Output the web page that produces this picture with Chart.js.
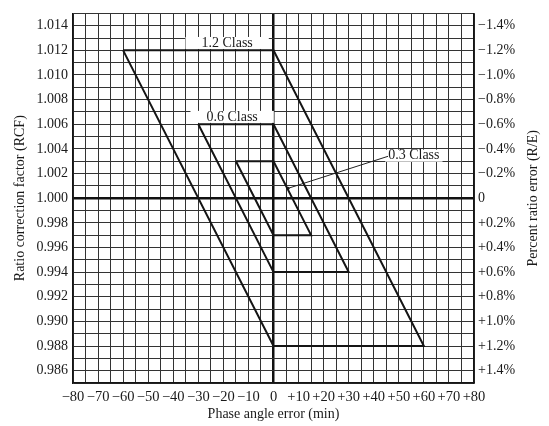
<!DOCTYPE html>
<html>
<head>
<meta charset="utf-8">
<script src="https://cdn.jsdelivr.net/npm/chart.js@4/dist/chart.umd.min.js"></script>
<style>
  html, body { margin: 0; padding: 0; background: #fff; }
  #wrap { width: 549px; height: 426px; }
</style>
</head>
<body>
<div id="wrap"><canvas id="chart" width="549" height="426"></canvas></div>
<script>
// accuracy class parallelograms (phase angle min, RCF)
const class12X = [-60, 0, 60, 0, -60];
const class12Y = [1.012, 1.012, 0.988, 0.988, 1.012];
const class06X = [-30, 0, 30, 0, -30];
const class06Y = [1.006, 1.006, 0.994, 0.994, 1.006];
const class03X = [-15, 0, 15, 0, -15];
const class03Y = [1.003, 1.003, 0.997, 0.997, 1.003];

// leader line for the 0.3 class label
const leaderX = [45.7, 5.8];
const leaderY = [1.0034, 1.0008];

const labelTexts = ['1.2 Class', '0.6 Class', '0.3 Class'];
const labelX = [-18.5, -16.5, 56];
const labelY = [1.0126, 1.0066, 1.00345];

const xMin = -80, xMax = 80, xStep = 5;
const yMin = 0.985, yMax = 1.015, yStep = 0.001;

const FONT = '"Liberation Serif", "DejaVu Serif", serif';

function toPoints(xs, ys) {
    return xs.map((x, i) => ({ x: x, y: ys[i] }));
}

function shape(xs, ys) {
    return {
        data: toPoints(xs, ys),
        showLine: true,
        borderColor: '#151515',
        borderWidth: 2,
        pointRadius: 0,
        fill: false,
        tension: 0
    };
}

function fmtX(v) {
    if (v % 10 !== 0) return '';
    if (v === 0) return '0';
    return v > 0 ? '+' + v : '\u2212' + Math.abs(v);
}

function fmtRcf(v) {
    const k = Math.round(v * 1000);
    if (k % 2 !== 0) return '';
    return (k / 1000).toFixed(3);
}

function fmtPct(v) {
    const k = Math.round(v * 1000) - 1000;
    if (k % 2 !== 0) return '';
    if (k === 0) return '0';
    const pct = (Math.abs(k) / 10).toFixed(1) + '%';
    return k > 0 ? '\u2212' + pct : '+' + pct;
}

const overlay = {
    id: 'overlay',
    beforeDatasetsDraw(chart) {
        const { ctx, scales } = chart;
        ctx.save();
        ctx.font = '14px ' + FONT;
        ctx.textAlign = 'center';
        ctx.textBaseline = 'middle';
        labelTexts.forEach((t, i) => {
            const px = scales.x.getPixelForValue(labelX[i]);
            const py = scales.y.getPixelForValue(labelY[i]);
            const w = ctx.measureText(t).width;
            const pad = i === 2 ? 3 : 16;
            ctx.fillStyle = '#fff';
            ctx.fillRect(px - w / 2 - pad, py - 6, w + pad * 2, 12);
            ctx.fillStyle = '#1a1a1a';
            ctx.fillText(t, px, py);
        });
        ctx.restore();
    },
    afterDraw(chart) {
        const { ctx, chartArea } = chart;
        ctx.save();
        ctx.font = '14px ' + FONT;
        ctx.fillStyle = '#1a1a1a';
        ctx.textAlign = 'center';
        ctx.textBaseline = 'middle';
        ctx.translate(533, (chartArea.top + chartArea.bottom) / 2);
        ctx.rotate(-Math.PI / 2);
        ctx.fillText('Percent ratio error (R/E)', 0, 0);
        ctx.restore();
    }
};

const GRID = '#333';

new Chart(document.getElementById('chart'), {
    type: 'scatter',
    data: {
        datasets: [
            shape(class12X, class12Y),
            shape(class06X, class06Y),
            shape(class03X, class03Y),
            {
                data: toPoints(leaderX, leaderY),
                showLine: true,
                borderColor: '#222',
                borderWidth: 1,
                pointRadius: [0, 1.5],
                pointBackgroundColor: '#222',
                pointBorderWidth: 0
            }
        ]
    },
    options: {
        responsive: false,
        animation: false,
        layout: { padding: { top: 5, left: 0, right: 0, bottom: 0 } },
        plugins: { legend: { display: false }, tooltip: { enabled: false } },
        scales: {
            x: {
                type: 'linear',
                min: xMin,
                max: xMax,
                border: { color: '#151515', width: 1.5 },
                grid: {
                    drawTicks: false,
                    color: (c) => c.tick && c.tick.value === 0 ? '#111' : GRID,
                    lineWidth: (c) => c.tick && c.tick.value === 0 ? 2.5 : 1
                },
                ticks: {
                    stepSize: xStep,
                    autoSkip: false,
                    maxRotation: 0,
                    padding: 5,
                    color: '#1a1a1a',
                    font: { family: FONT, size: 14.5 },
                    callback: (v) => fmtX(Math.round(v))
                },
                title: {
                    display: true,
                    text: 'Phase angle error (min)',
                    color: '#1a1a1a',
                    font: { family: FONT, size: 14 },
                    padding: { top: 2, bottom: 3 }
                },
                afterFit: (s) => { s.height = 43; }
            },
            y: {
                type: 'linear',
                position: 'left',
                min: yMin,
                max: yMax,
                border: { color: '#151515', width: 1.5 },
                grid: {
                    drawTicks: false,
                    color: (c) => c.tick && Math.round(c.tick.value * 1000) === 1000 ? '#111' : GRID,
                    lineWidth: (c) => c.tick && Math.round(c.tick.value * 1000) === 1000 ? 2.5 : 1
                },
                ticks: {
                    stepSize: yStep,
                    autoSkip: false,
                    padding: 5,
                    color: '#1a1a1a',
                    font: { family: FONT, size: 14 },
                    callback: (v) => fmtRcf(v)
                },
                title: {
                    display: true,
                    text: 'Ratio correction factor (RCF)',
                    color: '#1a1a1a',
                    font: { family: FONT, size: 14 },
                    padding: { top: 12, bottom: 4 }
                },
                afterFit: (s) => { s.width = 73; }
            },
            y2: {
                type: 'linear',
                position: 'right',
                min: yMin,
                max: yMax,
                border: { color: '#151515', width: 1.5 },
                grid: { drawOnChartArea: false, drawTicks: false },
                ticks: {
                    stepSize: yStep,
                    autoSkip: false,
                    padding: 4,
                    color: '#1a1a1a',
                    font: { family: FONT, size: 14 },
                    callback: (v) => fmtPct(v)
                },
                afterFit: (s) => { s.width = 75; }
            }
        }
    },
    plugins: [overlay]
});
</script>
</body>
</html>
